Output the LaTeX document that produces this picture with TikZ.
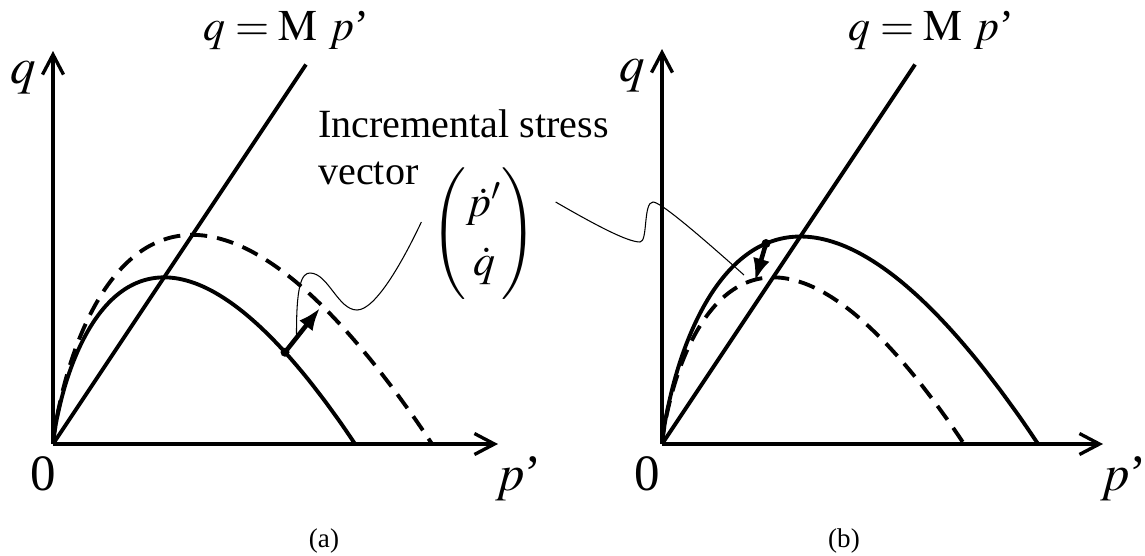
\documentclass[tikz,border=0pt]{standalone}
\usepackage{amsmath}
\usepackage{mathptmx}
\usepackage{fontspec}
\setmainfont{Liberation Serif}
\usetikzlibrary{arrows.meta,positioning,calc}

\tikzset{
  axis/.style={line width=1.9pt,-{Straight Barb[length=0.4cm,width=0.42cm]}},
  curve/.style={line width=2.2pt},
  dashcurve/.style={line width=2.2pt,dash pattern=on 0.34cm off 0.2cm},
  incr/.style={line width=2.6pt,-{Latex[length=0.45cm,width=0.34cm]}},
  lead/.style={line width=0.6pt},
  lbl/.style={font=\fontsize{22.8}{26.7}\selectfont,inner sep=0pt},
  axlbl/.style={font=\fontsize{29}{34}\selectfont,inner sep=0pt},
  eqlbl/.style={font=\fontsize{25}{30}\selectfont,inner sep=0pt},
  caplbl/.style={font=\fontsize{15.4}{18}\selectfont,inner sep=0pt}
}

% yield curve q = M p' ln(p0/p'), M = 1.5
\newcommand{\yieldcurve}[2][]{%
  \draw[#1] (0,0) -- plot[variable=\t,domain=0.01:1,samples=80,smooth]
    ({#2*\t*\t},{-3*#2*\t*\t*ln(\t)});}

\begin{document}
\begin{tikzpicture}
\useasboundingbox (-1.06,-2.22) rectangle (21.84,8.88);

% (a)
\begin{scope}
  \coordinate (oa) at (0,0);
  \draw[axis] (oa) -- (0,7.86);
  \draw[axis] (oa) -- (8.9,0);
  \node[axlbl] (qa) at (-0.6,7.32) {$q$};
  \node[axlbl] (za) at (-0.2,-0.6) {0};
  \node[axlbl,anchor=base west] (pa) at (8.84,-0.92) {$p$’};
  \draw[curve] (oa) -- (5.06,7.59);
  \node[eqlbl,anchor=base west] (ma) at (3.0,8.08) {$q=\mathrm{M}\ p$’};

  % yield curves
  \yieldcurve[curve]{6.04}
  \yieldcurve[dashcurve]{7.58}

  % stress increment
  \coordinate (dota) at (4.64,1.835);
  \coordinate (tipa) at (5.34,2.72);
  \fill (dota) circle (0.09);
  \draw[incr] (dota) -- (tipa);
  \coordinate (enda) at ($(dota)!0.33!(tipa)$);
  \node[caplbl] (capa) at (5.42,-1.93) {(a)};
\end{scope}

% (b)
\begin{scope}[shift={(12.18,0)}]
  \coordinate (ob) at (0,0);
  \draw[axis] (ob) -- (0,7.9);
  \draw[axis] (ob) -- (8.82,0);
  \node[axlbl] (qb) at (-0.6,7.36) {$q$};
  \node[axlbl] (zb) at (-0.3,-0.6) {0};
  \node[axlbl,anchor=base west] (pb) at (8.76,-0.92) {$p$’};
  \draw[curve] (ob) -- (5.06,7.59);
  \node[eqlbl,anchor=base west] (mb) at (3.72,8.08) {$q=\mathrm{M}\ p$’};

  % yield curves
  \yieldcurve[curve]{7.52}
  \yieldcurve[dashcurve]{6.04}

  % stress increment
  \coordinate (dotb) at (2.08,4.01);
  \coordinate (tipb) at (1.86,3.26);
  \fill (dotb) circle (0.09);
  \draw[incr] (dotb) -- (tipb);
  \coordinate (endb) at (1.64,3.38);
  \node[caplbl] (capb) at (3.64,-1.93) {(b)};
\end{scope}

% label and leaders
\node[lbl,anchor=north west,align=left] (inc) at (5.3,6.7) {Incremental stress\\vector};
\node[lbl,inner sep=0.2cm] (vec) at (8.62,4.2)
  {\fontsize{25}{28}\selectfont\renewcommand{\arraystretch}{1.2}$\begin{pmatrix}\dot p'\\ \dot q\end{pmatrix}$};

\draw[lead] ([yshift=0.24cm]vec.west) .. controls (7.0,3.66) and (6.45,2.68) .. (6.08,2.68)
  .. controls (5.7,2.68) and (5.5,3.42) .. (5.14,3.42)
  .. controls (4.98,3.42) and (4.86,3.2) .. (enda);
\draw[lead] ([shift={(0.18,0.64)}]vec.east) .. controls (10.9,4.35) and (11.5,4.04) .. (11.74,4.04)
  .. controls (11.9,4.04) and (11.8,4.84) .. (12.0,4.84)
  .. controls (12.15,4.84) and (12.9,4.2) .. (endb);
\end{tikzpicture}
\end{document}
